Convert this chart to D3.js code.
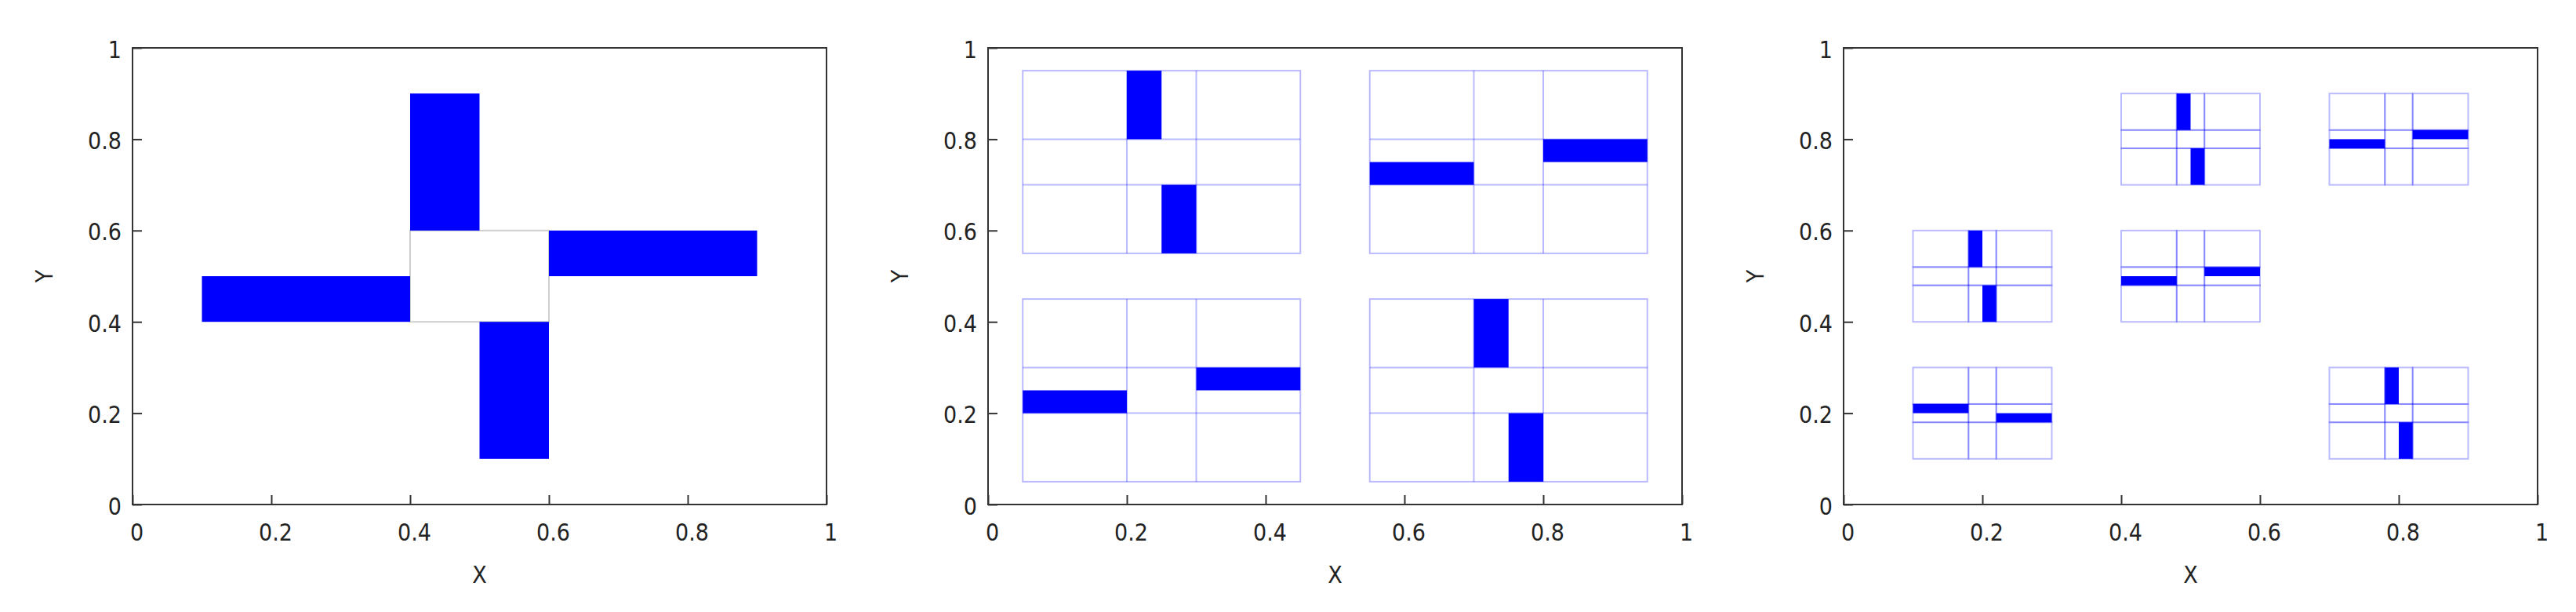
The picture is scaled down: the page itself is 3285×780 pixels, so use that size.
<!DOCTYPE html>
<html>
<head>
<meta charset="utf-8">
<script src="https://cdn.jsdelivr.net/npm/d3@7"></script>
<style>
  html, body { margin: 0; padding: 0; background: #fff; }
  svg { display: block; }
  text { font-family: "DejaVu Sans Condensed", "DejaVu Sans", sans-serif; font-stretch: condensed; fill: #222; }
</style>
</head>
<body>
<div id="chart"></div>
<script>
// Axis ticks (shared by all three panels)
const tickValues = [0, 0.2, 0.4, 0.6, 0.8, 1];
const tickLabels = ["0", "0.2", "0.4", "0.6", "0.8", "1"];

// Panel 1: pinwheel bars [x0, x1, y0, y1] and the empty centre square
const pinwheelBars = [
  [0.4, 0.5, 0.6, 0.9],
  [0.1, 0.4, 0.4, 0.5],
  [0.6, 0.9, 0.5, 0.6],
  [0.5, 0.6, 0.1, 0.4],
];
const pinwheelCenter = [[0.4, 0.6, 0.4, 0.6]];

// Panel 2: four 3x3 grids (x breaks, y breaks) and their bars
const quadXBreaks = [
  [0.05, 0.2, 0.3, 0.45],
  [0.55, 0.7, 0.8, 0.95],
  [0.05, 0.2, 0.3, 0.45],
  [0.55, 0.7, 0.8, 0.95],
];
const quadYBreaks = [
  [0.55, 0.7, 0.8, 0.95],
  [0.55, 0.7, 0.8, 0.95],
  [0.05, 0.2, 0.3, 0.45],
  [0.05, 0.2, 0.3, 0.45],
];
const quadBars = [
  [0.2, 0.25, 0.8, 0.95], [0.25, 0.3, 0.55, 0.7],
  [0.55, 0.7, 0.7, 0.75], [0.8, 0.95, 0.75, 0.8],
  [0.05, 0.2, 0.2, 0.25], [0.3, 0.45, 0.25, 0.3],
  [0.7, 0.75, 0.3, 0.45], [0.75, 0.8, 0.05, 0.2],
];

// Panel 3: six small 3x3 grids and their bars
const smallXBreaks = [
  [0.1, 0.18, 0.22, 0.3],
  [0.1, 0.18, 0.22, 0.3],
  [0.4, 0.48, 0.52, 0.6],
  [0.4, 0.48, 0.52, 0.6],
  [0.7, 0.78, 0.82, 0.9],
  [0.7, 0.78, 0.82, 0.9],
];
const smallYBreaks = [
  [0.1, 0.18, 0.22, 0.3],
  [0.4, 0.48, 0.52, 0.6],
  [0.4, 0.48, 0.52, 0.6],
  [0.7, 0.78, 0.82, 0.9],
  [0.7, 0.78, 0.82, 0.9],
  [0.1, 0.18, 0.22, 0.3],
];
const smallBars = [
  [0.1, 0.18, 0.2, 0.22], [0.22, 0.3, 0.18, 0.2],
  [0.18, 0.2, 0.52, 0.6], [0.2, 0.22, 0.4, 0.48],
  [0.4, 0.48, 0.48, 0.5], [0.52, 0.6, 0.5, 0.52],
  [0.48, 0.5, 0.82, 0.9], [0.5, 0.52, 0.7, 0.78],
  [0.7, 0.78, 0.78, 0.8], [0.82, 0.9, 0.8, 0.82],
  [0.78, 0.8, 0.22, 0.3], [0.8, 0.82, 0.1, 0.18],
];

(function () {
  // Dimensions
  const width = 3285;
  const height = 780;
  const panelLefts = [169, 1260, 2351];
  const panelWidth = 885;
  const panelTop = 61;
  const panelHeight = 582;
  const fontSize = 30;

  // Style
  const barColor = "#0000ff";
  const frameColor = "#333";
  const gridStroke = "rgba(0, 0, 255, 0.27)";

  const svg = d3
    .select("#chart")
    .append("svg")
    .attr("width", width)
    .attr("height", height)
    .attr("viewBox", [0, 0, width, height]);

  function makePanel(left) {
    const x = d3.scaleLinear([0, 1], [left, left + panelWidth]);
    const y = d3.scaleLinear([0, 1], [panelTop + panelHeight, panelTop]);
    const g = svg.append("g");

    // Axes (inward ticks, no mirror)
    const xAxis = g
      .append("g")
      .attr("transform", `translate(0,${panelTop + panelHeight})`)
      .call(
        d3
          .axisBottom(x)
          .tickValues(tickValues)
          .tickFormat((d, i) => tickLabels[i])
          .tickSize(-12)
          .tickPadding(25)
      );
    xAxis.selectAll("text").attr("dx", 5);

    const yAxis = g
      .append("g")
      .attr("transform", `translate(${left},0)`)
      .call(
        d3
          .axisLeft(y)
          .tickValues(tickValues)
          .tickFormat((d, i) => tickLabels[i])
          .tickSize(-12)
          .tickPadding(14)
      );
    yAxis.selectAll("text").attr("dy", "0.4em");

    g.selectAll(".domain").remove();
    g.selectAll(".tick line").attr("stroke", frameColor).attr("stroke-width", 2);
    g.selectAll(".tick text")
      .style("font-size", `${fontSize}px`)
      .attr("fill", "#222");

    // Titles
    g.append("text")
      .attr("x", left + panelWidth / 2)
      .attr("y", 743)
      .attr("text-anchor", "middle")
      .style("font-size", `${fontSize}px`)
      .text("X");
    g.append("text")
      .attr("transform", `translate(${left - 102},${panelTop + panelHeight / 2}) rotate(-90)`)
      .attr("text-anchor", "middle")
      .style("font-size", `${fontSize}px`)
      .text("Y");

    const plot = g.append("g");

    // Frame drawn last
    g.append("rect")
      .attr("x", left)
      .attr("y", panelTop)
      .attr("width", panelWidth)
      .attr("height", panelHeight)
      .attr("fill", "none")
      .attr("stroke", frameColor)
      .attr("stroke-width", 2);

    return { x, y, plot };
  }

  function drawBars(p, bars) {
    p.plot
      .append("g")
      .selectAll("rect")
      .data(bars)
      .join("rect")
      .attr("x", (d) => p.x(d[0]))
      .attr("width", (d) => p.x(d[1]) - p.x(d[0]))
      .attr("y", (d) => p.y(d[3]))
      .attr("height", (d) => p.y(d[2]) - p.y(d[3]))
      .attr("fill", barColor);
  }

  // cells of a 3x3 grid from its breaks
  function gridCells(xs, ys) {
    const cells = [];
    d3.pairs(xs).forEach(([x0, x1]) => {
      d3.pairs(ys).forEach(([y0, y1]) => cells.push([x0, x1, y0, y1]));
    });
    return cells;
  }

  // Panel 1
  const p1 = makePanel(panelLefts[0]);
  p1.plot
    .append("g")
    .selectAll("rect")
    .data(pinwheelCenter)
    .join("rect")
    .attr("x", (d) => p1.x(d[0]))
    .attr("width", (d) => p1.x(d[1]) - p1.x(d[0]))
    .attr("y", (d) => p1.y(d[3]))
    .attr("height", (d) => p1.y(d[2]) - p1.y(d[3]))
    .attr("fill", "none")
    .attr("stroke", "#cfcfcf")
    .attr("stroke-width", 2);
  drawBars(p1, pinwheelBars);

  // Panel 2: each grid drawn as an outline plus inner lines
  const p2 = makePanel(panelLefts[1]);
  quadXBreaks.forEach((xs, i) => {
    const ys = quadYBreaks[i];
    const gg = p2.plot.append("g").attr("fill", "none").attr("stroke", gridStroke).attr("stroke-width", 2);
    gg.append("rect")
      .attr("x", p2.x(xs[0]))
      .attr("y", p2.y(ys[3]))
      .attr("width", p2.x(xs[3]) - p2.x(xs[0]))
      .attr("height", p2.y(ys[0]) - p2.y(ys[3]));
    gg.selectAll(".v")
      .data(xs.slice(1, 3))
      .join("line")
      .attr("x1", (d) => p2.x(d))
      .attr("x2", (d) => p2.x(d))
      .attr("y1", p2.y(ys[0]))
      .attr("y2", p2.y(ys[3]));
    gg.selectAll(".h")
      .data(ys.slice(1, 3))
      .join("line")
      .attr("y1", (d) => p2.y(d))
      .attr("y2", (d) => p2.y(d))
      .attr("x1", p2.x(xs[0]))
      .attr("x2", p2.x(xs[3]));
  });
  drawBars(p2, quadBars);

  // Panel 3: each grid drawn cell by cell (shared edges overlap)
  const p3 = makePanel(panelLefts[2]);
  smallXBreaks.forEach((xs, i) => {
    p3.plot
      .append("g")
      .selectAll("rect")
      .data(gridCells(xs, smallYBreaks[i]))
      .join("rect")
      .attr("x", (d) => p3.x(d[0]))
      .attr("width", (d) => p3.x(d[1]) - p3.x(d[0]))
      .attr("y", (d) => p3.y(d[3]))
      .attr("height", (d) => p3.y(d[2]) - p3.y(d[3]))
      .attr("fill", "none")
      .attr("stroke", gridStroke)
      .attr("stroke-width", 2);
  });
  drawBars(p3, smallBars);
})();
</script>
</body>
</html>
